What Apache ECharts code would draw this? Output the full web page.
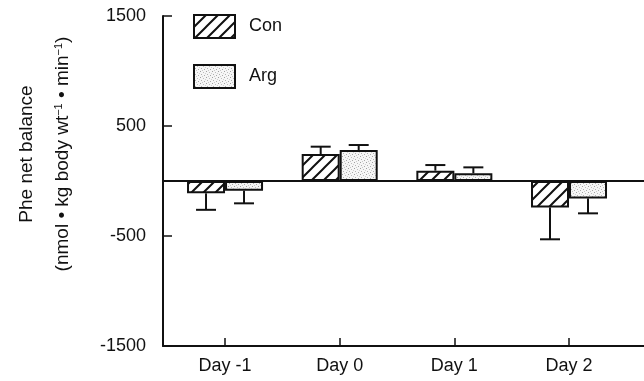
<!DOCTYPE html>
<html>
<head>
<meta charset="utf-8">
<script src="https://cdn.jsdelivr.net/npm/echarts@6/dist/echarts.min.js"></script>
<style>
html,body{margin:0;padding:0;background:#fff;}
#c{width:644px;height:381px;}
</style>
</head>
<body>
<div id="c"></div>
<script>
// ---- data ----
var categories = ['Day -1', 'Day 0', 'Day 1', 'Day 2'];
var seriesNames = ['Con', 'Arg'];
var conValues = [-112, 245, 94, -240];
var conErrors = [150, 67, 51, 290];
var argValues = [-88, 282, 70, -158];
var argErrors = [115, 45, 54, 136];
var yTicks = [-1500, -500, 500, 1500];

var FONT = "'Liberation Sans', Arial, Helvetica, sans-serif";

function hatchPattern() {
  var s = 12;
  var cv = document.createElement('canvas');
  cv.width = s; cv.height = s;
  var g = cv.getContext('2d');
  g.fillStyle = '#fff'; g.fillRect(0, 0, s, s);
  g.strokeStyle = '#111'; g.lineWidth = 2;
  g.beginPath();
  g.moveTo(-2, s + 2); g.lineTo(s + 2, -2);
  g.moveTo(-2, 2); g.lineTo(2, -2);
  g.moveTo(s - 2, s + 2); g.lineTo(s + 2, s - 2);
  g.stroke();
  return cv;
}
function stipplePattern() {
  var s = 6;
  var cv = document.createElement('canvas');
  cv.width = s; cv.height = s;
  var g = cv.getContext('2d');
  g.fillStyle = '#f6f6f6'; g.fillRect(0, 0, s, s);
  var dots = [[0,0,'#a0a0a0'],[3,1,'#bdbdbd'],[1,3,'#b0b0b0'],[4,4,'#a8a8a8'],[5,2,'#d0d0d0'],[2,5,'#c8c8c8']];
  dots.forEach(function(d){ g.fillStyle = d[2]; g.fillRect(d[0], d[1], 1, 1); });
  return cv;
}
var conFill = { image: hatchPattern(), repeat: 'repeat' };
var argFill = { image: stipplePattern(), repeat: 'repeat' };

function pairs(vals) { return vals.map(function (v, i) { return [i, v]; }); }
function errData(vals, errs) {
  return vals.map(function (v, i) { return [i, v, v < 0 ? v - errs[i] : v + errs[i]]; });
}
function errRender(offset) {
  return function (params, api) {
    var p0 = api.coord([api.value(0), api.value(1)]);
    var p1 = api.coord([api.value(0), api.value(2)]);
    var x = p0[0] + offset;
    var cap = 10;
    return {
      type: 'group',
      children: [
        { type: 'line', shape: { x1: x, y1: p0[1], x2: x, y2: p1[1] }, style: { stroke: '#111', lineWidth: 2 } },
        { type: 'line', shape: { x1: x - cap, y1: p1[1], x2: x + cap, y2: p1[1] }, style: { stroke: '#111', lineWidth: 2 } }
      ]
    };
  };
}

var chart = echarts.init(document.getElementById('c'), null, { renderer: 'canvas' });
chart.setOption({
  animation: false,
  backgroundColor: '#fff',
  textStyle: { fontFamily: FONT },
  grid: { left: 163, right: 0, top: 16, bottom: 35, containLabel: false },
  legend: {
    orient: 'vertical', left: 193, top: 14, padding: 0,
    itemWidth: 41, itemHeight: 23, itemGap: 25,
    icon: 'rect',
    data: seriesNames,
    textStyle: { fontSize: 18, color: '#111', fontFamily: FONT, padding: [0, 0, 0, 9] }
  },
  xAxis: {
    type: 'value', min: -0.541, max: 3.654,
    axisLine: { show: true, onZero: false, lineStyle: { color: '#111', width: 2 } },
    axisTick: { show: true, inside: true, length: 8, customValues: [0, 1, 2, 3], lineStyle: { color: '#111', width: 1.5 } },
    axisLabel: { customValues: [0, 1, 2, 3], margin: 11, fontSize: 18, color: '#111', fontFamily: FONT,
      formatter: function (v) { return categories[Math.round(v)]; } },
    splitLine: { show: false }
  },
  yAxis: {
    type: 'value', min: -1500, max: 1500,
    axisLine: { show: true, onZero: false, lineStyle: { color: '#111', width: 2 } },
    axisTick: { show: true, inside: true, length: 9, customValues: yTicks, lineStyle: { color: '#111', width: 1.5 } },
    axisLabel: { customValues: yTicks, margin: 17, fontSize: 18, color: '#111', fontFamily: FONT,
      formatter: function (v) { return String(v); } },
    splitLine: { show: false }
  },
  graphic: [
    { type: 'text', x: 27, y: 154, rotation: Math.PI / 2,
      style: { text: 'Phe net balance', font: '19px ' + FONT, fill: '#111', align: 'center', verticalAlign: 'middle' } },
    { type: 'text', x: 63, y: 154, rotation: Math.PI / 2,
      style: { text: '{a|(nmol • kg body wt}{s|−1}{a| • min}{s|−1}{a|)}', fill: '#111', align: 'center', verticalAlign: 'middle',
        rich: { a: { fontSize: 19, fontFamily: FONT, fill: '#111' }, s: { fontSize: 11, fontFamily: FONT, fill: '#111', verticalAlign: 'top', padding: [0, 0, 8, 0] } } } }
  ],
  series: [
    { name: 'Con', type: 'bar', data: pairs(conValues), barWidth: 38, barGap: '0%',
      itemStyle: { color: conFill, borderColor: '#111', borderWidth: 2 },
      markLine: { silent: true, symbol: 'none', label: { show: false }, lineStyle: { color: '#111', width: 2, type: 'solid' },
        data: [{ yAxis: 0 }] } },
    { name: 'Arg', type: 'bar', data: pairs(argValues), barWidth: 38, barGap: '0%',
      itemStyle: { color: argFill, borderColor: '#111', borderWidth: 2 } },
    { type: 'custom', name: 'ConErr', data: errData(conValues, conErrors), renderItem: errRender(-19), z: 1 },
    { type: 'custom', name: 'ArgErr', data: errData(argValues, argErrors), renderItem: errRender(19), z: 1 }
  ]
});
</script>
</body>
</html>
